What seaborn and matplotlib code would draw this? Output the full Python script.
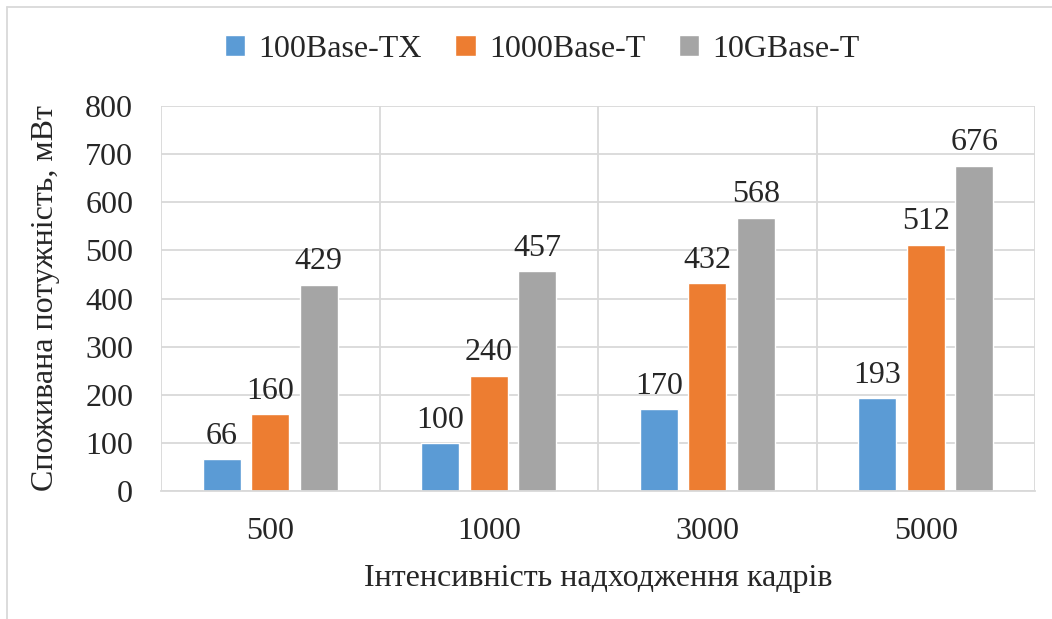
import pandas as pd
import matplotlib.pyplot as plt
import seaborn as sns
from matplotlib.lines import Line2D

categories = ["500", "1000", "3000", "5000"]
series = ["100Base-TX", "1000Base-T", "10GBase-T"]
tx100 = [66, 100, 170, 193]
t1000 = [160, 240, 432, 512]
t10g = [429, 457, 568, 676]
colors = ["#5B9BD5", "#ED7D31", "#A5A5A5"]

df = pd.DataFrame({
    "cat": categories * 3,
    "series": [s for s in series for _ in categories],
    "value": tx100 + t1000 + t10g,
})

sns.set_style("white")
plt.rcParams["font.family"] = "serif"
plt.rcParams["font.serif"] = ["Liberation Serif", "DejaVu Serif"]
plt.rcParams["font.size"] = 23

fig = plt.figure(figsize=(10.52, 6.19), dpi=100)
ax = fig.add_axes([161 / 1052, 1 - 491 / 619, (1035 - 161) / 1052, (491 - 106) / 619])

sns.barplot(data=df, x="cat", y="value", hue="series", order=categories,
            hue_order=series, palette=colors, width=0.666, gap=0.216,
            saturation=1, ax=ax, legend=True)

for cont in ax.containers:
    ax.bar_label(cont, padding=6, fontsize=23)

ax.set_ylim(0, 800)
ax.set_xlim(-0.5, 3.5)
ax.set_yticks(range(0, 801, 100))
ax.set_xticks([-0.5, 0.5, 1.5, 2.5, 3.5], minor=True)
ax.grid(axis="y", color="#D9D9D9", linewidth=1.3)
ax.grid(axis="x", which="minor", color="#D9D9D9", linewidth=1.3)
ax.set_axisbelow(True)
ax.tick_params(axis="both", which="both", length=0)
ax.tick_params(axis="y", pad=20)
ax.tick_params(axis="x", pad=19)
for side in ["top", "right", "left"]:
    ax.spines[side].set_visible(False)
ax.spines["bottom"].set_color("#D9D9D9")
ax.spines["bottom"].set_linewidth(1.3)

ax.set_xlabel("Інтенсивність надходження кадрів", fontsize=23, labelpad=13)
ax.set_ylabel("Споживана потужність, мВт", fontsize=23, labelpad=18)

ax.legend(loc="upper center", bbox_to_anchor=(0.436, 1.26), ncol=3, frameon=False,
          fontsize=23, handlelength=0.65, handleheight=0.65, handletextpad=0.4,
          columnspacing=1.05)

# chart frame (clipped by the image edges)
fig.add_artist(Line2D([7 / 1052, 1], [1 - 7 / 619, 1 - 7 / 619], color="#D9D9D9", lw=1.3))
fig.add_artist(Line2D([7 / 1052, 7 / 1052], [0, 1 - 7 / 619], color="#D9D9D9", lw=1.3))

fig.savefig("out.png", dpi=100)
plt.close(fig)
